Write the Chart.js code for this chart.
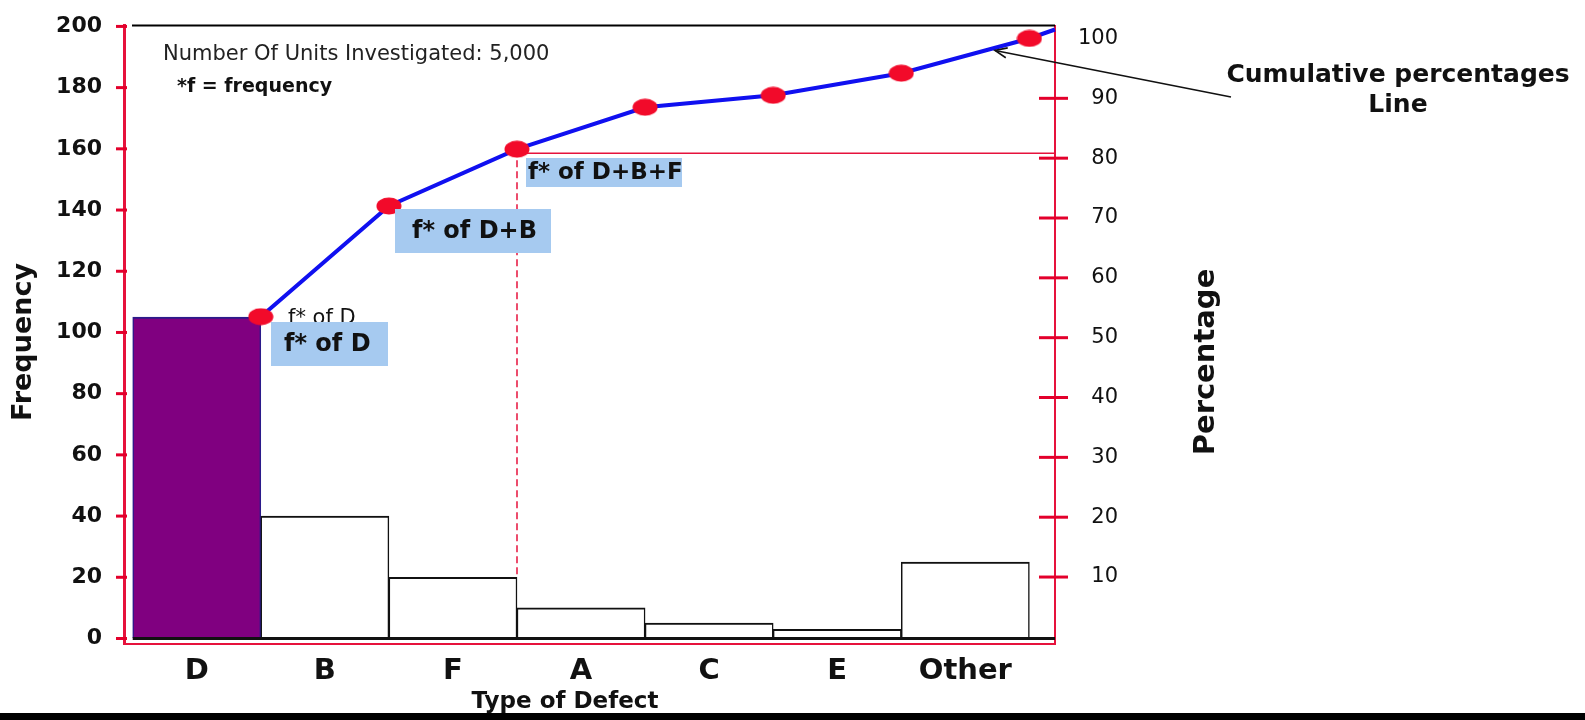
<!DOCTYPE html>
<html>
<head>
<meta charset="utf-8">
<script src="https://cdn.jsdelivr.net/npm/chart.js@4.4.1/dist/chart.umd.min.js"></script>
<style>
  html, body { margin: 0; padding: 0; background: #000; }
  #wrap { position: relative; width: 1585px; height: 713px; background: #fff; }
  canvas { display: block; }
</style>
</head>
<body>
<div id="wrap"><canvas id="pareto" width="1585" height="713"></canvas></div>
<script>
// Defect categories, ordered by frequency (Pareto order, "Other" last)
const categories = ['D', 'B', 'F', 'A', 'C', 'E', 'Other'];
// Number of defects found per category
const frequency = [105, 40, 20, 10, 5, 3, 25];
// Cumulative percentage reached at the right edge of each bar
const cumulativePct = [53.5, 72, 81.5, 88.5, 90.5, 94.2, 100];
// The cumulative line runs on to the top-right corner of the frame
const lineEndPct = 101.5;
// Axis tick values
const freqTicks = [0, 20, 40, 60, 80, 100, 120, 140, 160, 180, 200];
const pctTicks = [10, 20, 30, 40, 50, 60, 70, 80, 90, 100];

const RED = '#e6123c';
const TICK_RED = '#e3002b';
const PURPLE = '#800080';
const BLUE = '#1010f0';
const BOX_BLUE = '#a6caf0';
const INK = '#111';
const FONT = "'DejaVu Sans'";

const X_MIN = -0.068, X_MAX = 7.2;
const cutIndex = 2; // D+B+F reaches the ~80% cut-off

// red ellipse marker for the cumulative points
function ellipseMarker() {
  const c = document.createElement('canvas');
  c.width = 26; c.height = 18;
  const g = c.getContext('2d');
  g.fillStyle = '#f20a2a';
  g.beginPath();
  g.ellipse(13, 9, 12.5, 8.5, 0, 0, Math.PI * 2);
  g.fill();
  return c;
}
const marker = ellipseMarker();

const barData = categories.map((c, i) => ({ x: i + 0.5, y: frequency[i] }));
const lineData = cumulativePct.map((p, i) => ({ x: i + 1, y: p }));
lineData.push({ x: X_MAX, y: lineEndPct });

function text(ctx, s, x, y, font, align, base, color) {
  ctx.font = font;
  ctx.textAlign = align || 'left';
  ctx.textBaseline = base || 'alphabetic';
  ctx.fillStyle = color || INK;
  ctx.fillText(s, x, y);
}

function labelBox(ctx, s, bx, by, bw, bh, tx, size) {
  ctx.fillStyle = BOX_BLUE;
  ctx.fillRect(bx, by, bw, bh);
  text(ctx, s, tx, by + bh / 2 + 1, `bold ${size}px ${FONT}`, 'left', 'middle', INK);
}

// vertical axes: keep label overhang from pushing the plot area inward
function noOverhang(s) {
  s.paddingTop = 0; s.paddingBottom = 0;
}

const overlay = {
  id: 'paretoOverlay',
  beforeDatasetsDraw(chart) {
    const { ctx, chartArea: a, scales: { x, y, y2 } } = chart;
    const px = x.getPixelForValue(cutIndex + 1);
    const py = y2.getPixelForValue(cumulativePct[cutIndex]);
    ctx.save();
    ctx.strokeStyle = RED;
    ctx.lineWidth = 1.5;
    // horizontal guide to the percentage axis
    ctx.beginPath();
    ctx.moveTo(px, py + 4);
    ctx.lineTo(a.right, py + 4);
    ctx.stroke();
    // dashed drop line down to the F bar
    ctx.setLineDash([7, 4]);
    ctx.beginPath();
    ctx.moveTo(px, py);
    ctx.lineTo(px, y.getPixelForValue(frequency[cutIndex]));
    ctx.stroke();
    ctx.restore();
  },
  afterDatasetsDraw(chart) {
    const { ctx, chartArea: a, scales: { x, y, y2 } } = chart;
    ctx.save();
    // top frame line
    ctx.strokeStyle = '#000';
    ctx.lineWidth = 2;
    ctx.beginPath();
    ctx.moveTo(a.left + 8, a.top);
    ctx.lineTo(a.right, a.top);
    ctx.stroke();
    // baseline under the bars
    const y0 = y.getPixelForValue(0);
    ctx.lineWidth = 3;
    ctx.strokeStyle = '#111';
    ctx.beginPath();
    ctx.moveTo(x.getPixelForValue(0), y0);
    ctx.lineTo(a.right, y0);
    ctx.stroke();

    // tick marks crossing the frequency axis
    ctx.strokeStyle = TICK_RED;
    ctx.lineWidth = 3;
    y.ticks.forEach(t => {
      const ty = y.getPixelForValue(t.value);
      ctx.beginPath();
      ctx.moveTo(a.left - 8, ty);
      ctx.lineTo(a.left + 3, ty);
      ctx.stroke();
    });
    // tick marks crossing the percentage axis
    y2.ticks.forEach(t => {
      if (t.value >= 100) return;
      const ty = y2.getPixelForValue(t.value);
      ctx.beginPath();
      ctx.moveTo(a.right - 16, ty);
      ctx.lineTo(a.right + 13, ty);
      ctx.stroke();
    });

    // notes in the upper left
    text(ctx, 'Number Of Units Investigated: 5,000', 163, 60, `21px ${FONT}`, 'left', 'alphabetic', '#222');
    text(ctx, '*f = frequency', 177, 92, `bold 19px ${FONT}`);

    // callouts
    text(ctx, 'f* of D', 288, 324, `21px ${FONT}`);
    labelBox(ctx, 'f* of D', 271, 322, 117, 44, 284, 24);
    labelBox(ctx, 'f* of D+B', 395, 209, 156, 44, 412, 24);
    labelBox(ctx, 'f* of D+B+F', 526, 158, 156, 29, 528, 23);

    // cumulative line caption with arrow
    text(ctx, 'Cumulative percentages', 1398, 82, `bold 25px ${FONT}`, 'center');
    text(ctx, 'Line', 1398, 112, `bold 25px ${FONT}`, 'center');
    const ax0 = 1231, ay0 = 97, ax1 = 995, ay1 = 50.5;
    ctx.strokeStyle = '#111';
    ctx.lineWidth = 1.6;
    ctx.beginPath();
    ctx.moveTo(ax0, ay0);
    ctx.lineTo(ax1, ay1);
    ctx.stroke();
    const ang = Math.atan2(ay0 - ay1, ax0 - ax1);
    ctx.beginPath();
    ctx.moveTo(ax1 + 13 * Math.cos(ang - 0.4), ay1 + 13 * Math.sin(ang - 0.4));
    ctx.lineTo(ax1, ay1);
    ctx.lineTo(ax1 + 13 * Math.cos(ang + 0.4), ay1 + 13 * Math.sin(ang + 0.4));
    ctx.stroke();

    // axis titles
    ctx.save();
    ctx.translate(30.5, 342);
    ctx.rotate(-Math.PI / 2);
    text(ctx, 'Frequency', 0, 0, `bold 27px ${FONT}`, 'center');
    ctx.restore();
    ctx.save();
    ctx.translate(1214, 362);
    ctx.rotate(-Math.PI / 2);
    text(ctx, 'Percentage', 0, 0, `bold 29px ${FONT}`, 'center');
    ctx.restore();
    text(ctx, 'Type of Defect', 565, 708, `bold 23px ${FONT}`, 'center');
    ctx.restore();
  }
};

new Chart(document.getElementById('pareto'), {
  data: {
    datasets: [
      {
        type: 'line',
        label: 'Cumulative %',
        data: lineData,
        xAxisID: 'x',
        yAxisID: 'y2',
        borderColor: BLUE,
        borderWidth: 4,
        tension: 0,
        pointStyle: marker,
        pointRadius: lineData.map((p, i) => i < cumulativePct.length ? 8 : 0),
        order: 0,
        clip: 12
      },
      {
        type: 'bar',
        label: 'Frequency',
        data: barData,
        xAxisID: 'x',
        yAxisID: 'y',
        backgroundColor: categories.map((c, i) => i === 0 ? PURPLE : '#ffffff'),
        borderColor: categories.map((c, i) => i === 0 ? '#2b1a8a' : '#111'),
        borderWidth: { top: 2, left: 1.5, right: 1.5, bottom: 0 },
        borderSkipped: false,
        barPercentage: 1,
        categoryPercentage: 1,
        order: 1
      }
    ]
  },
  options: {
    responsive: false,
    animation: false,
    layout: { padding: { top: 25.5, left: 0, right: 467, bottom: 0 } },
    plugins: { legend: { display: false }, tooltip: { enabled: false } },
    scales: {
      x: {
        type: 'linear',
        position: 'bottom',
        offset: false,
        min: X_MIN,
        max: X_MAX,
        afterBuildTicks: s => { s.ticks = categories.map((c, i) => ({ value: i + 0.5 })); },
        afterFit: s => { s.height = 69; s.paddingLeft = 0; s.paddingRight = 0; },
        ticks: {
          autoSkip: false,
          maxRotation: 0,
          padding: 10,
          color: INK,
          font: { family: 'DejaVu Sans', weight: 'bold', size: 29 },
          callback: (v, i) => categories[i]
        },
        grid: { display: true, offset: false, drawOnChartArea: false, drawTicks: false },
        border: { display: true, color: RED, width: 2 }
      },
      y: {
        type: 'linear',
        position: 'left',
        min: -1.8,
        max: 200.3,
        afterBuildTicks: s => { s.ticks = freqTicks.map(v => ({ value: v })); },
        afterFit: s => { s.width = 124; noOverhang(s); },
        ticks: {
          padding: 22,
          color: INK,
          font: { family: 'DejaVu Sans', weight: 'bold', size: 22 }
        },
        grid: { display: true, drawOnChartArea: false, drawTicks: false },
        border: { display: true, color: RED, width: 3 }
      },
      y2: {
        type: 'linear',
        position: 'right',
        min: -1.19,
        max: 102.17,
        afterBuildTicks: s => { s.ticks = pctTicks.map(v => ({ value: v })); },
        afterFit: s => { s.width = 63; noOverhang(s); },
        ticks: {
          padding: 23,
          crossAlign: 'far',
          color: INK,
          font: { family: 'DejaVu Sans', size: 21 }
        },
        grid: { display: true, drawOnChartArea: false, drawTicks: false },
        border: { display: true, color: RED, width: 2 }
      }
    }
  },
  plugins: [overlay]
});
</script>
</body>
</html>
